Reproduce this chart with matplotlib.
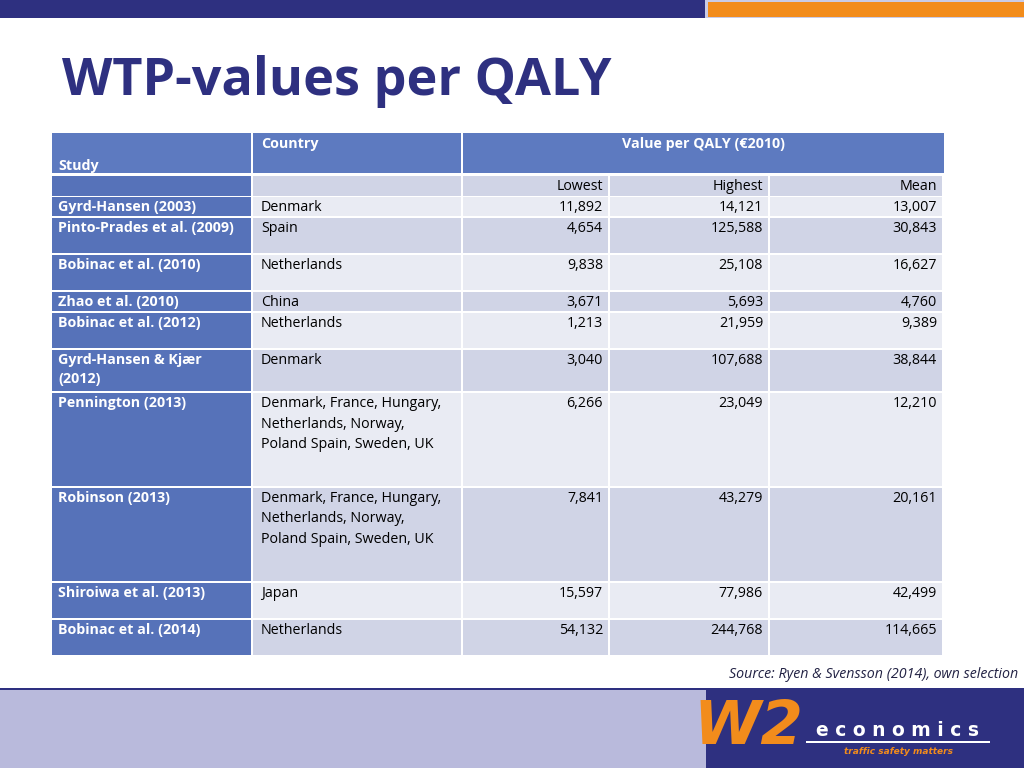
import matplotlib.pyplot as plt
from matplotlib.patches import Rectangle

studies = ["Gyrd-Hansen (2003)", "Pinto-Prades et al. (2009)", "Bobinac et al. (2010)",
           "Zhao et al. (2010)", "Bobinac et al. (2012)", "Gyrd-Hansen & Kjær\n(2012)",
           "Pennington (2013)", "Robinson (2013)", "Shiroiwa et al. (2013)", "Bobinac et al. (2014)"]
countries = ["Denmark", "Spain", "Netherlands", "China", "Netherlands", "Denmark",
             "Denmark, France, Hungary,\nNetherlands, Norway,\nPoland Spain, Sweden, UK",
             "Denmark, France, Hungary,\nNetherlands, Norway,\nPoland Spain, Sweden, UK",
             "Japan", "Netherlands"]
lowest = ["11,892", "4,654", "9,838", "3,671", "1,213", "3,040", "6,266", "7,841", "15,597", "54,132"]
highest = ["14,121", "125,588", "25,108", "5,693", "21,959", "107,688", "23,049", "43,279", "77,986", "244,768"]
mean = ["13,007", "30,843", "16,627", "4,760", "9,389", "38,844", "12,210", "20,161", "42,499", "114,665"]

# pixel layout
col_x = [52, 253, 463, 610, 770, 944]
row_y = [197, 218, 255, 292, 313, 350, 393, 488, 583, 620, 657]

NAVY = "#2E3080"
BLUE = "#5672B9"
HEAD = "#5D7AC0"
DARK = "#D0D4E6"
LIGHT = "#E9EBF3"
FONT = "Open Sans"
FS = 10.3

fig = plt.figure(figsize=(10.24, 7.68), dpi=100)
ax = fig.add_axes([0, 0, 1, 1])
ax.set_xlim(0, 1024)
ax.set_ylim(768, 0)
ax.axis("off")


def box(x0, y0, x1, y1, c):
    ax.add_patch(Rectangle((x0, y0), x1 - x0, y1 - y0, facecolor=c, edgecolor="none"))


# top bars
box(0, 0, 705, 18, NAVY)
box(705, 0, 1024, 18, "#C9CBE6")
box(708, 2, 1024, 17, "#F28C1C")

# title
ax.text(62, 82, "WTP-values per QALY", fontsize=37.5, fontweight="bold", color=NAVY,
        family=FONT, va="center", ha="left")

g = 2  # gap between cells
# header rows
box(col_x[0], 133, col_x[1] - g, 173, HEAD)
box(col_x[1], 133, col_x[2] - g, 173, HEAD)
box(col_x[2], 133, col_x[5], 173, HEAD)
ax.text(58, 166, "Study", color="white", fontsize=FS, fontweight="bold", family=FONT, va="center")
ax.text(261, 144, "Country", color="white", fontsize=FS, fontweight="bold", family=FONT, va="center")
ax.text(703, 144, "Value per QALY (€2010)", color="white", fontsize=FS, fontweight="bold",
        family=FONT, va="center", ha="center")

box(col_x[0], 176, col_x[1] - g, 196, BLUE)
for i in range(1, 5):
    box(col_x[i], 176, col_x[i + 1] - g, 196, DARK)
for i, lab in enumerate(["Lowest", "Highest", "Mean"]):
    ax.text(col_x[i + 3] - 7, 186, lab, fontsize=FS, family=FONT, ha="right", va="center", color="black")

for r in range(len(studies)):
    y0, y1 = row_y[r], row_y[r + 1] - g
    c = LIGHT if r % 2 == 0 else DARK
    box(col_x[0], y0, col_x[1] - g, y1, BLUE)
    for i in range(1, 5):
        box(col_x[i], y0, col_x[i + 1] - g, y1, c)
    ty = y0 + 3
    ax.text(58, ty, studies[r], color="white", fontsize=FS, fontweight="bold", family=FONT,
            va="top", linespacing=1.5)
    ax.text(261, ty, countries[r], color="black", fontsize=FS, family=FONT, va="top", linespacing=1.5)
    for i, vals in enumerate([lowest, highest, mean]):
        ax.text(col_x[i + 3] - 7, ty, vals[r], color="black", fontsize=FS, family=FONT,
                va="top", ha="right")

ax.text(1018, 674, "Source: Ryen & Svensson (2014), own selection", fontsize=FS, style="italic",
        family=FONT, ha="right", va="center", color="#222244")

# footer
box(0, 688, 1024, 768, "#B9BADC")
box(0, 688, 1024, 690, NAVY)
box(706, 690, 1024, 768, NAVY)
ax.text(748, 728, "W2", fontsize=44, fontweight="bold", style="italic", color="#F28C1C",
        family="DejaVu Sans", ha="center", va="center")
ax.text(898, 731, "e c o n o m i c s", fontsize=13.5, fontweight="bold", color="white",
        family="DejaVu Sans", ha="center", va="center")
box(806, 741, 990, 743, "white")
ax.text(898, 751, "traffic safety matters", fontsize=6.5, color="#F28C1C", style="italic",
        fontweight="bold", family="DejaVu Sans", ha="center", va="center")

fig.savefig("out.png", dpi=100)
